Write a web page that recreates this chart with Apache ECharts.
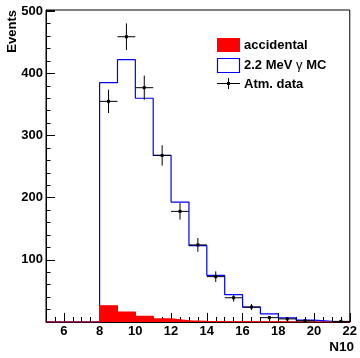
<!DOCTYPE html>
<html>
<head>
<meta charset="utf-8">
<script src="https://cdn.jsdelivr.net/npm/echarts@6/dist/echarts.min.js"></script>
<style>
  html, body { margin: 0; padding: 0; background: #fff; }
  #chart { width: 360px; height: 358px; }
</style>
</head>
<body>
<div id="chart"></div>
<script>
// Histogram binning: unit-width bins, low edges 5 .. 21
const binLowEdges = [5, 6, 7, 8, 9, 10, 11, 12, 13, 14, 15, 16, 17, 18, 19, 20, 21];
const binWidth = 1;

// Simulated 2.2 MeV gamma response (normalised)
const mcCounts = [0, 0, 0, 385, 422, 360, 268, 193, 123, 75, 44, 24, 13, 6.5, 3, 1, 0.5];
// Accidental background
const accCounts = [0, 0, 0, 26, 16, 9, 5, 2, 1, 0.5, 0.3, 0.2, 0.1, 0, 0, 0, 0];
// Atmospheric neutrino data and statistical errors
const dataCounts = [0, 0, 0, 355, 459, 377, 268, 178, 124, 73, 39, 24, 7, 5, 2, 0, 1];
const dataErrors = [0, 0, 0, 18.8, 21.4, 19.4, 16.4, 13.3, 11.1, 8.5, 6.2, 4.9, 2.6, 2.2, 1.4, 0, 1];

// Axis ticks
const xMajorTicks = [6, 8, 10, 12, 14, 16, 18, 20, 22];
const xMinorTicks = [5, 5.5, 6, 6.5, 7, 7.5, 8, 8.5, 9, 9.5, 10, 10.5, 11, 11.5, 12, 12.5, 13, 13.5,
                     14, 14.5, 15, 15.5, 16, 16.5, 17, 17.5, 18, 18.5, 19, 19.5, 20, 20.5, 21, 21.5, 22];

const FONT = '"Liberation Sans", Arial, Helvetica, sans-serif';

// Step outline of a histogram: start at zero, one point per bin low edge, close at last edge
function stepData(counts) {
  const pts = [[binLowEdges[0], 0]];
  for (let i = 0; i < counts.length; i++) pts.push([binLowEdges[i], counts[i]]);
  pts.push([binLowEdges[binLowEdges.length - 1] + binWidth, 0]);
  return pts;
}

const pointData = [];
for (let i = 0; i < dataCounts.length; i++) {
  if (dataCounts[i] > 0) pointData.push([binLowEdges[i] + binWidth / 2, dataCounts[i], dataErrors[i]]);
}

const chart = echarts.init(document.getElementById('chart'), null, { renderer: 'canvas' });

chart.setOption({
  animation: false,
  backgroundColor: '#fff',
  grid: { left: 46, right: 5, top: 10, bottom: 36, show: true, borderColor: '#000', borderWidth: 1, backgroundColor: 'transparent' },
  xAxis: [{
    type: 'value', min: 5, max: 22, gridIndex: 0, position: 'bottom',
    axisLine: { show: true, onZero: false, lineStyle: { color: '#000', width: 1 } },
    axisTick: { show: true, inside: true, length: 9, customValues: xMajorTicks, lineStyle: { color: '#000' } },
    axisLabel: { show: true, customValues: xMajorTicks, margin: 3, color: '#000', fontSize: 13, fontWeight: 'bold', fontFamily: FONT },
    splitLine: { show: false }
  }, {
    type: 'value', min: 5, max: 22, gridIndex: 0, position: 'bottom',
    axisLine: { show: false },
    axisTick: { show: true, inside: true, length: 5, customValues: xMinorTicks, lineStyle: { color: '#000' } },
    axisLabel: { show: false },
    splitLine: { show: false }
  }],
  yAxis: {
    type: 'value', min: 0, max: 502, interval: 100,
    axisLine: { show: true, lineStyle: { color: '#000', width: 1 } },
    axisTick: { show: true, inside: true, length: 9, lineStyle: { color: '#000' } },
    minorTick: { show: true, splitNumber: 5, length: 4.5, lineStyle: { color: '#000' } },
    axisLabel: {
      margin: 3, color: '#000', fontSize: 13, fontWeight: 'bold', fontFamily: FONT,
      formatter: v => (v === 0 ? '' : String(v))
    },
    splitLine: { show: false }
  },
  series: [{
    name: '2.2 MeV MC', type: 'line', step: 'end', data: stepData(mcCounts),
    showSymbol: false, symbol: 'none', clip: true,
    lineStyle: { color: '#0000ff', width: 1.2 }, z: 2
  }, {
    name: 'accidental', type: 'line', step: 'end', data: stepData(accCounts),
    showSymbol: false, symbol: 'none', clip: true,
    lineStyle: { color: '#ff0000', width: 1.2 },
    areaStyle: { color: '#ff0000', opacity: 1, origin: 0 }, z: 3
  }, {
    name: 'Atm. data', type: 'custom', data: pointData, z: 4,
    encode: { x: 0, y: 1 },
    renderItem: function (params, api) {
      const x = api.value(0), v = api.value(1), e = api.value(2);
      const c = api.coord([x, v]);
      const l = api.coord([x - binWidth / 2, v]);
      const r = api.coord([x + binWidth / 2, v]);
      const lo = api.coord([x, Math.max(v - e, 0)]);
      const hi = api.coord([x, v + e]);
      const st = { stroke: '#000', lineWidth: 1 };
      return {
        type: 'group',
        children: [
          { type: 'line', shape: { x1: l[0], y1: c[1], x2: r[0], y2: c[1] }, style: st },
          { type: 'line', shape: { x1: c[0], y1: lo[1], x2: c[0], y2: hi[1] }, style: st },
          { type: 'rect', shape: { x: c[0] - 1.5, y: c[1] - 1.5, width: 3, height: 3 }, style: { fill: '#000' } }
        ]
      };
    }
  }],
  graphic: [
    // axis titles
    { type: 'text', x: 12, y: 10, rotation: Math.PI / 2,
      style: { text: 'Events', font: 'bold 13px ' + FONT, fill: '#000', align: 'right', verticalAlign: 'middle' } },
    { type: 'text', x: 354, y: 347.5,
      style: { text: 'N10', font: 'bold 13.5px ' + FONT, fill: '#000', align: 'right', verticalAlign: 'middle' } },
    // legend
    { type: 'rect', shape: { x: 217, y: 38, width: 23, height: 14 }, style: { fill: '#ff0000' } },
    { type: 'text', x: 244, y: 45.5,
      style: { text: 'accidental', font: 'bold 13px ' + FONT, fill: '#000', verticalAlign: 'middle' } },
    { type: 'rect', shape: { x: 217.5, y: 58.5, width: 22, height: 14 }, style: { fill: '#fff', stroke: '#0000ff', lineWidth: 1.2 } },
    { type: 'text', x: 244, y: 65.5,
      style: {
        text: '2.2 MeV {g|γ} MC', font: 'bold 13px ' + FONT, fill: '#000', verticalAlign: 'middle',
        rich: { g: { font: '13px ' + FONT, fill: '#000' } }
      } },
    { type: 'line', shape: { x1: 217, y1: 83.5, x2: 240, y2: 83.5 }, style: { stroke: '#000', lineWidth: 1 } },
    { type: 'line', shape: { x1: 228.5, y1: 78, x2: 228.5, y2: 89 }, style: { stroke: '#000', lineWidth: 1 } },
    { type: 'rect', shape: { x: 227, y: 82, width: 3, height: 3 }, style: { fill: '#000' } },
    { type: 'text', x: 244, y: 84,
      style: { text: 'Atm. data', font: 'bold 13px ' + FONT, fill: '#000', verticalAlign: 'middle' } }
  ]
});
</script>
</body>
</html>
